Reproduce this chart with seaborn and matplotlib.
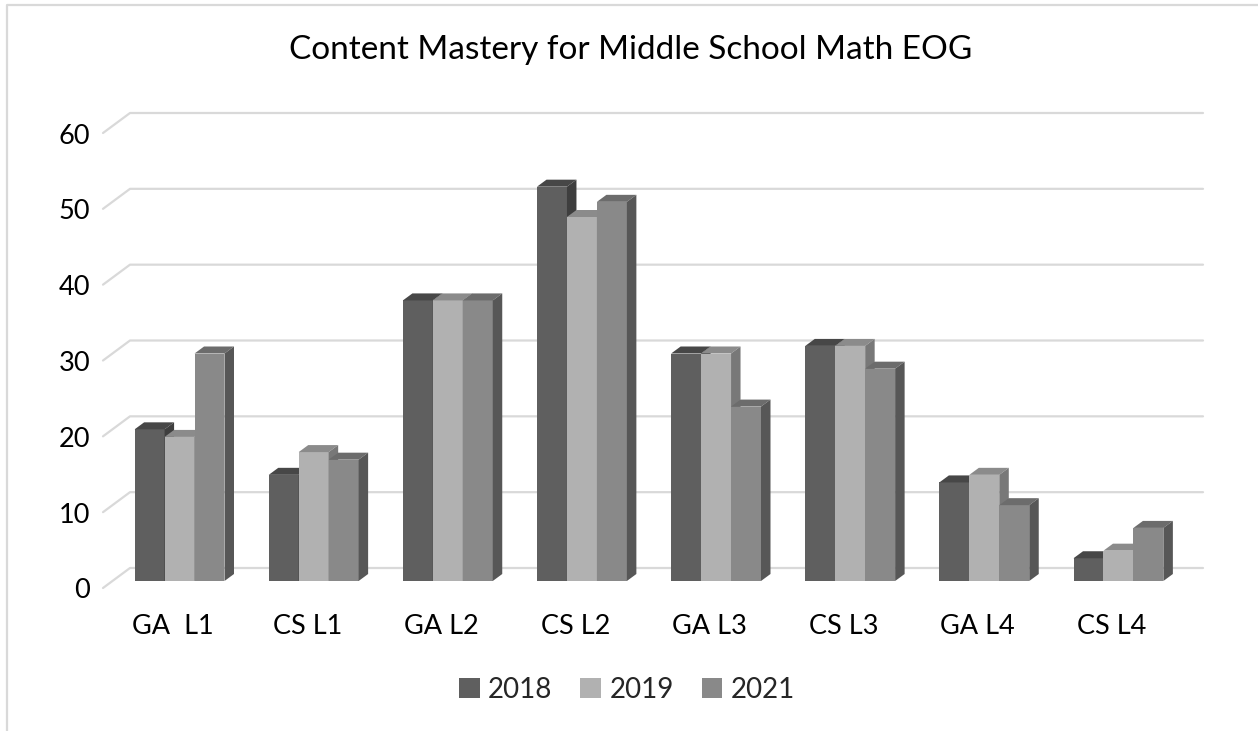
import numpy as np
import pandas as pd
import matplotlib
matplotlib.use("Agg")
import matplotlib.pyplot as plt
from matplotlib.patches import Polygon, Patch
from matplotlib.lines import Line2D
from matplotlib.transforms import IdentityTransform
import seaborn as sns

# Chart data
categories = ["GA  L1", "CS L1", "GA L2", "CS L2", "GA L3", "CS L3", "GA L4", "CS L4"]
years = ["2018", "2019", "2021"]
scores_2018 = [20, 14, 37, 52, 30, 31, 13, 3]
scores_2019 = [19, 17, 37, 48, 30, 31, 14, 4]
scores_2021 = [30, 16, 37, 50, 23, 28, 10, 7]
y_ticks = [0, 10, 20, 30, 40, 50, 60]
title = "Content Mastery for Middle School Math EOG"

# Shading for the front, top and side faces of each series
front_colors = ["#5f5f5f", "#b1b1b1", "#898989"]
top_colors = ["#474747", "#8b8b8b", "#6c6c6c"]
side_colors = ["#3e3e3e", "#787878", "#575757"]
grid_color = "#d9d9d9"

sns.set_theme(style="white")
plt.rcParams["font.family"] = ["Lato", "DejaVu Sans"]

df = pd.concat([
    pd.DataFrame({"category": categories, "year": y, "score": s})
    for y, s in zip(years, [scores_2018, scores_2019, scores_2021])
], ignore_index=True)

W, H = 1258, 731
fig = plt.figure(figsize=(W / 100, H / 100), dpi=100)
fig.patch.set_facecolor("white")
ax = fig.add_axes([112.5 / W, 150 / H, 1073 / W, 455 / H])

sns.barplot(data=df, x="category", y="score", hue="year", order=categories,
            hue_order=years, palette=front_colors, saturation=1, width=0.67,
            gap=0, dodge=True, legend=False, errorbar=None, linewidth=0, ax=ax)
ax.set_xlim(-0.5, 7.5)
ax.set_ylim(0, 60)
ax.axis("off")

ident = IdentityTransform()
bar_depth = np.array([9.5, 7.0])      # depth of each bar, in pixels
floor_front = np.array([-9.5, -7.0])  # front edge of the floor relative to the bars
back_wall = np.array([17.5, 13.0])    # back wall relative to the bars


def px(x, y):
    return ax.transData.transform((x, y))


# Back-wall gridlines with the diagonal floor edge on the left
for v in y_ticks:
    p_front = px(-0.5, v) + floor_front
    p_back_l = px(-0.5, v) + back_wall
    p_back_r = px(7.5, v) + back_wall
    ax.add_line(Line2D([p_front[0], p_back_l[0], p_back_r[0]],
                       [p_front[1], p_back_l[1], p_back_r[1]],
                       color=grid_color, lw=1.6, transform=ident,
                       clip_on=False, zorder=1))
    ax.text(p_front[0] - 13, p_front[1] - 3, str(v), transform=ident,
            ha="right", va="center", fontsize=19.5, color="#000000")

# Extrude each bar: top and right side faces, drawn left to right
rects = sorted(ax.patches, key=lambda r: r.get_x())
for i, r in enumerate(rects):
    hex_fc = matplotlib.colors.to_hex(r.get_facecolor())
    k = front_colors.index(hex_fc) if hex_fc in front_colors else 0
    x0, x1 = r.get_x(), r.get_x() + r.get_width()
    h = r.get_height()
    br, tl, tr = px(x1, 0), px(x0, h), px(x1, h)
    z = 5 + i * 0.01
    r.set_zorder(z)
    top = Polygon([tl, tr, tr + bar_depth, tl + bar_depth], closed=True,
                  facecolor=top_colors[k], edgecolor="none",
                  transform=ident, clip_on=False, zorder=z + 0.002)
    side = Polygon([br, tr, tr + bar_depth, br + bar_depth], closed=True,
                   facecolor=side_colors[k], edgecolor="none",
                   transform=ident, clip_on=False, zorder=z + 0.003)
    ax.add_patch(top)
    ax.add_patch(side)

# Category labels below the floor
for i, c in enumerate(categories):
    p = px(i, 0) + floor_front
    ax.text(p[0] + 3, p[1] - 38, c, transform=ident, ha="center",
            va="center", fontsize=19.5, color="#000000")

fig.text(631 / W, 1 - 50 / H, title, ha="center", va="center",
         fontsize=24, color="#000000")

handles = [Patch(facecolor=c, edgecolor="none") for c in front_colors]
fig.legend(handles=handles, labels=years, loc="center",
           bbox_to_anchor=(627 / W, 1 - 690 / H), ncol=3, frameon=False,
           fontsize=20, handlelength=0.75, handleheight=0.75,
           handletextpad=0.3, columnspacing=1.0)

# Outer chart border
fig.add_artist(Line2D([7, 7, W], [0, H - 5, H - 5], color=grid_color,
                      lw=1.6, transform=ident))

fig.savefig("out.png", dpi=100)
